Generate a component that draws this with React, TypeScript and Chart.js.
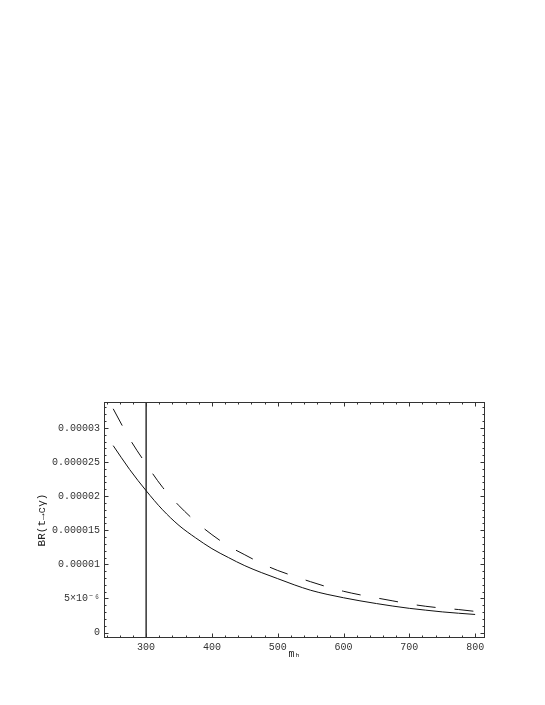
import React, { useEffect, useRef } from "react";
import { Chart, registerables } from "chart.js";

Chart.register(...registerables);

// m_h values
const MH = [250, 275, 300, 325, 350, 375, 400, 425, 450, 475, 500, 525, 550, 575, 600, 625, 650, 675, 700, 725, 750, 775, 800];
// BR(t -> c gamma), solid curve
const BR_SOLID = [27.4e-6, 23.9e-6, 20.8e-6, 18.0e-6, 15.7e-6, 13.9e-6, 12.3e-6, 11.0e-6, 9.8e-6, 8.8e-6, 7.9e-6, 7.0e-6, 6.2e-6, 5.6e-6, 5.1e-6, 4.65e-6, 4.25e-6, 3.88e-6, 3.55e-6, 3.28e-6, 3.03e-6, 2.83e-6, 2.65e-6];
// BR(t -> c gamma), dashed curve
const BR_DASHED = [32.8e-6, 28.4e-6, 24.7e-6, 21.3e-6, 18.6e-6, 16.3e-6, 14.35e-6, 12.7e-6, 11.4e-6, 10.15e-6, 9.1e-6, 8.26e-6, 7.45e-6, 6.7e-6, 6.05e-6, 5.53e-6, 5.08e-6, 4.64e-6, 4.2e-6, 3.85e-6, 3.58e-6, 3.37e-6, 3.1e-6];
// vertical marker
const MARK_X = 300;

const X_TICKS = [300, 400, 500, 600, 700, 800];
const X_TICK_LABELS = ["300", "400", "500", "600", "700", "800"];
const Y_TICKS = [0, 5e-6, 1e-5, 1.5e-5, 2e-5, 2.5e-5, 3e-5];
const Y_TICK_LABELS = ["0", "5×10⁻⁶", "0.00001", "0.000015", "0.00002", "0.000025", "0.00003"];

const X_MIN = 236;
const X_MAX = 815;
const Y_MIN = -0.8e-6;
const Y_MAX = 33.8e-6;
const X_MINOR_STEP = 20;
const Y_MINOR_STEP = 1e-6;

const FONT = "'Liberation Mono', 'DejaVu Sans Mono', monospace";

const framePlugin = {
  id: "mmaFrame",
  afterDatasetsDraw(chart: any) {
    const { ctx, chartArea: a, scales } = chart;
    const xs = scales.x;
    const ys = scales.y;
    const L = Math.round(a.left) + 0.5;
    const R = Math.round(a.right) - 0.5;
    const T = Math.round(a.top) + 0.5;
    const B = Math.round(a.bottom) - 0.5;
    ctx.save();
    ctx.strokeStyle = "#333";
    ctx.lineWidth = 1;
    ctx.strokeRect(L, T, R - L, B - T);
    ctx.beginPath();
    // x ticks (minor + major), bottom and top
    for (let v = 200; v <= 820; v += X_MINOR_STEP) {
      if (v < X_MIN || v > X_MAX) continue;
      const major = v % 100 === 0;
      const len = major ? 4 : 2;
      const px = Math.round(xs.getPixelForValue(v)) + 0.5;
      ctx.moveTo(px, B);
      ctx.lineTo(px, B - len);
      ctx.moveTo(px, T);
      ctx.lineTo(px, T + len);
    }
    // y ticks
    for (let i = -1; i <= 34; i++) {
      const v = i * Y_MINOR_STEP;
      if (v < Y_MIN || v > Y_MAX) continue;
      const major = i % 5 === 0;
      const len = major ? 4 : 2;
      const py = Math.round(ys.getPixelForValue(v)) + 0.5;
      ctx.moveTo(L, py);
      ctx.lineTo(L + len, py);
      ctx.moveTo(R, py);
      ctx.lineTo(R - len, py);
    }
    ctx.stroke();
    ctx.restore();
  },
};

export default function App() {
  const ref = useRef<HTMLCanvasElement>(null);

  useEffect(() => {
    if (!ref.current) return;
    const solid = MH.map((x, i) => ({ x, y: BR_SOLID[i] }));
    const dashed = MH.map((x, i) => ({ x, y: BR_DASHED[i] }));
    const chart = new Chart(ref.current, {
      type: "line",
      data: {
        datasets: [
          {
            data: solid,
            borderColor: "#111",
            borderWidth: 1,
            pointRadius: 0,
            cubicInterpolationMode: "monotone",
          },
          {
            data: dashed,
            borderColor: "#111",
            borderWidth: 1,
            borderDash: [19, 19],
            pointRadius: 0,
            cubicInterpolationMode: "monotone",
          },
          {
            data: [
              { x: MARK_X, y: Y_MIN },
              { x: MARK_X, y: Y_MAX },
            ],
            borderColor: "#000",
            borderWidth: 1.2,
            pointRadius: 0,
          },
        ],
      },
      options: {
        responsive: false,
        animation: false,
        parsing: false as any,
        layout: { padding: { top: 402, right: 60, left: 0, bottom: 0 } },
        plugins: { legend: { display: false }, tooltip: { enabled: false } },
        scales: {
          x: {
            type: "linear",
            min: X_MIN,
            max: X_MAX,
            afterBuildTicks: (s: any) => {
              s.ticks = X_TICKS.map((v) => ({ value: v }));
            },
            afterFit: (s: any) => {
              s.height = 67;
            },
            grid: { display: false, drawTicks: false },
            border: { display: false },
            ticks: {
              padding: 3,
              maxRotation: 0,
              autoSkip: false,
              color: "#333",
              font: { family: FONT, size: 10 },
              callback: (v: any) => {
                const i = X_TICKS.indexOf(Number(v));
                return i >= 0 ? X_TICK_LABELS[i] : "";
              },
            },
            title: {
              display: true,
              text: "mₕ",
              color: "#222",
              font: { family: FONT, size: 10 },
              padding: { top: 0, bottom: 45 },
            },
          },
          y: {
            type: "linear",
            min: Y_MIN,
            max: Y_MAX,
            afterBuildTicks: (s: any) => {
              s.ticks = Y_TICKS.map((v) => ({ value: v }));
            },
            afterFit: (s: any) => {
              s.width = 104;
            },
            grid: { display: false, drawTicks: false },
            border: { display: false },
            ticks: {
              padding: 4,
              autoSkip: false,
              color: "#333",
              font: { family: FONT, size: 10 },
              callback: (v: any) => {
                const i = Y_TICKS.findIndex((t) => Math.abs(t - Number(v)) < 1e-9);
                return i >= 0 ? Y_TICK_LABELS[i] : "";
              },
            },
            title: {
              display: true,
              text: "BR(t→cγ)",
              color: "#222",
              font: { family: FONT, size: 11 },
              padding: { top: 35, bottom: 0 },
            },
          },
        },
      },
      plugins: [framePlugin],
    });
    return () => chart.destroy();
  }, []);

  return (
    <div style={{ position: "absolute", left: 0, top: 0, width: 545, height: 705, background: "#fff" }}>
      <canvas ref={ref} width={545} height={705} style={{ width: 545, height: 705, display: "block" }} />
    </div>
  );
}
